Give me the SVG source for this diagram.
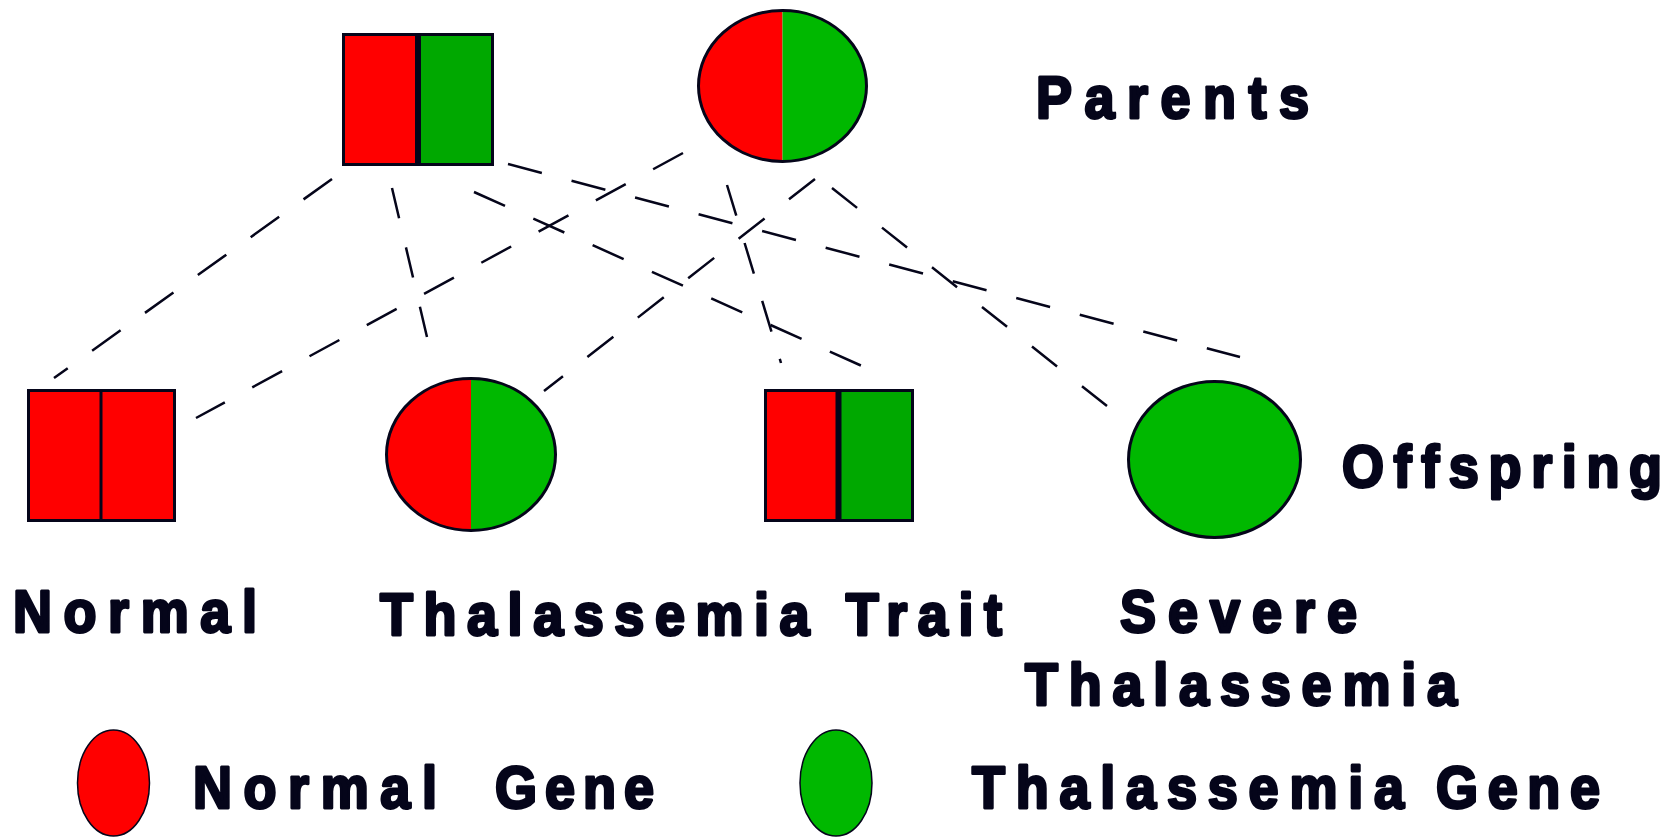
<svg xmlns="http://www.w3.org/2000/svg" width="1680" height="837" viewBox="0 0 1680 837">
  <style>
    .red { fill: #ff0000; }
    .sqgreen { fill: #00a800; }
    .rdgreen { fill: #00b800; }
    .outline { fill: none; stroke: #05051a; stroke-width: 3; }
    .divider { stroke: #05051a; }
    .link { fill: none; stroke: #05051a; stroke-width: 2.5; }
    .label { font-family: "Liberation Sans", Arial, sans-serif; font-weight: bold; font-size: 60px; fill: #05051a; stroke: #05051a; stroke-width: 3; stroke-linejoin: round; }
  </style>

  <!-- dashed descent lines from each parent to every child -->
  <g id="connectors">
    <line class="link" x1="332" y1="179" x2="54" y2="378" stroke-dasharray="35 30"/>
    <line class="link" x1="392" y1="188" x2="427" y2="337" stroke-dasharray="31 30"/>
    <line class="link" x1="474" y1="192" x2="862" y2="366" stroke-dasharray="34 31"/>
    <line class="link" x1="508" y1="164" x2="1240" y2="357" stroke-dasharray="35 30.7"/>
    <line class="link" x1="683" y1="153" x2="196" y2="418" stroke-dasharray="34 31.2"/>
    <line class="link" x1="815" y1="179" x2="544" y2="391" stroke-dasharray="33 31"/>
    <line class="link" x1="727" y1="185" x2="781" y2="363" stroke-dasharray="32 28.6"/>
    <line class="link" x1="832" y1="188" x2="1107" y2="406" stroke-dasharray="32 31.8"/>
  </g>

  <!-- father: square, one normal and one thalassemia gene -->
  <g id="father">
    <rect class="red" x="343" y="34" width="75" height="131"/>
    <rect class="sqgreen" x="418" y="34" width="75" height="131"/>
    <rect class="outline" x="343.5" y="34.5" width="149" height="130"/>
    <line class="divider" x1="418" y1="34" x2="418" y2="165" stroke-width="6"/>
  </g>

  <!-- mother: circle, one normal and one thalassemia gene -->
  <g id="mother">
    <path class="red" d="M782.5,10.5 A84,75.5 0 0 0 782.5,161.5 Z"/>
    <path class="rdgreen" d="M782.5,10.5 A84,75.5 0 0 1 782.5,161.5 Z"/>
    <ellipse class="outline" cx="782.5" cy="86" rx="84" ry="75.5"/>
  </g>

  <!-- offspring: normal son -->
  <g id="child-normal">
    <rect class="red" x="28" y="390" width="147" height="131"/>
    <rect class="outline" x="28.5" y="390.5" width="146" height="130"/>
    <line class="divider" x1="101" y1="390" x2="101" y2="521" stroke-width="3"/>
  </g>

  <!-- offspring: carrier daughter -->
  <g id="child-trait-daughter">
    <path class="red" d="M471,378.5 A84.5,76 0 0 0 471,530.5 Z"/>
    <path class="rdgreen" d="M471,378.5 A84.5,76 0 0 1 471,530.5 Z"/>
    <ellipse class="outline" cx="471" cy="454.5" rx="84.5" ry="76"/>
  </g>

  <!-- offspring: carrier son -->
  <g id="child-trait-son">
    <rect class="red" x="765" y="390" width="73" height="131"/>
    <rect class="sqgreen" x="838" y="390" width="75" height="131"/>
    <rect class="outline" x="765.5" y="390.5" width="147" height="130"/>
    <line class="divider" x1="838.5" y1="390" x2="838.5" y2="521" stroke-width="6"/>
  </g>

  <!-- offspring: affected daughter -->
  <g id="child-severe">
    <ellipse class="rdgreen" cx="1214.5" cy="459.5" rx="86" ry="78"/>
    <ellipse class="outline" cx="1214.5" cy="459.5" rx="86" ry="78"/>
  </g>

  <!-- row and category labels (glyphs narrowed horizontally) -->
  <g id="labels">
    <text class="label" transform="scale(0.9 1)" x="1151.1" y="118" textLength="303.3">Parents</text>
    <text class="label" transform="scale(0.9 1)" x="1491.1" y="487" textLength="355.6">Offspring</text>
    <text class="label" transform="scale(0.9 1)" x="14.4" y="632" textLength="271.1">Normal</text>
    <text class="label" transform="scale(0.9 1)" x="422.2" y="635" textLength="691.1">Thalassemia Trait</text>
    <text class="label" transform="scale(0.9 1)" x="1244.4" y="632" textLength="263.3">Severe</text>
    <text class="label" transform="scale(0.9 1)" x="1138.9" y="705" textLength="480">Thalassemia</text>
  </g>

  <!-- key -->
  <g id="legend-normal">
    <ellipse class="red" cx="113.5" cy="783" rx="36" ry="53" stroke="#05051a" stroke-width="1.5"/>
    <text class="label" transform="scale(0.9 1)" x="214.4" y="808" textLength="271.1">Normal</text>
    <text class="label" transform="scale(0.9 1)" x="550" y="808" textLength="176.7">Gene</text>
  </g>
  <g id="legend-thalassemia">
    <ellipse class="rdgreen" cx="836" cy="783" rx="36" ry="53" stroke="#05051a" stroke-width="1.5"/>
    <text class="label" transform="scale(0.9 1)" x="1080" y="808" textLength="480">Thalassemia</text>
    <text class="label" transform="scale(0.9 1)" x="1595.6" y="808" textLength="182.2">Gene</text>
  </g>
</svg>
